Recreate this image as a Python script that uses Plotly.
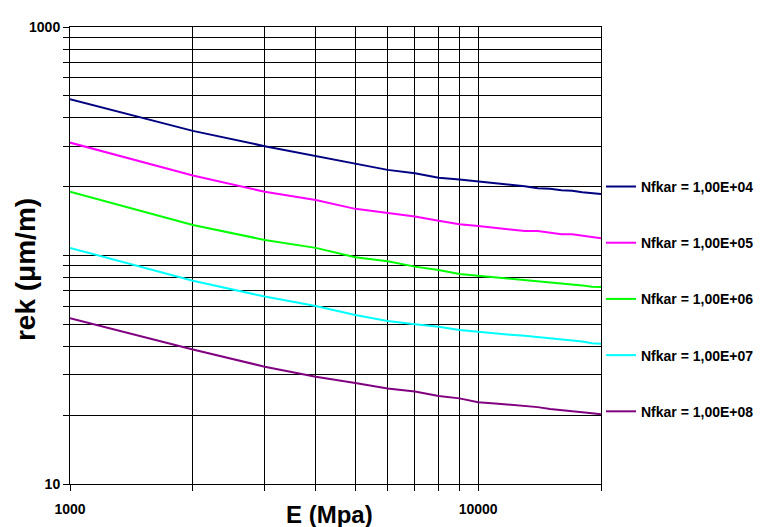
import plotly.graph_objects as go

# E (Mpa)
e_mpa = [1000, 2000, 3000, 4000, 5000, 6000, 7000, 8000, 9000, 10000,
         11000, 12000, 13000, 14000, 15000, 16000, 17000, 18000, 19000, 20000]

# rek (um/m) for each Nfkar
rek_1e4 = [483, 351, 301, 272, 251, 237, 229, 219, 215, 211,
           207, 204, 201, 197, 196, 193, 192, 189, 187, 186]
rek_1e5 = [312, 224, 190, 175, 160, 154, 148, 142, 137, 134.5,
           132, 130, 128, 128, 126, 124, 124, 122, 121, 119]
rek_1e6 = [190, 136, 117, 108, 98.3, 94.4, 89.4, 86.4, 83, 81.6,
           80, 79, 78, 77, 76.5, 75.5, 75, 74, 73, 72.8]
rek_1e7 = [108, 77.6, 66.1, 60.1, 54.9, 51.7, 50, 48.8, 47.2, 46.3,
           45.5, 45, 44.5, 44, 43.3, 42.8, 42.5, 42, 41.3, 41.1]
rek_1e8 = [53.1, 38.8, 32.6, 29.5, 27.7, 26.2, 25.4, 24.3, 23.7, 22.8,
           22.5, 22.2, 22.0, 21.7, 21.3, 21.1, 20.8, 20.6, 20.4, 20.2]

series_names = ["Nfkar = 1,00E+04", "Nfkar = 1,00E+05", "Nfkar = 1,00E+06",
                "Nfkar = 1,00E+07", "Nfkar = 1,00E+08"]
series_values = [rek_1e4, rek_1e5, rek_1e6, rek_1e7, rek_1e8]
colors = ["#000080", "#FF00FF", "#00FF00", "#00FFFF", "#800080"]

x_ticks = [1000, 2000, 3000, 4000, 5000, 6000, 7000, 8000, 9000, 10000, 20000]
x_labels = ["1000", "", "", "", "", "", "", "", "", "10000", ""]
y_ticks = [10, 20, 30, 40, 50, 60, 70, 80, 90,
           100, 200, 300, 400, 500, 600, 700, 800, 900, 1000]
y_labels = ["10"] + [""] * 17 + ["1000"]

font_family = "Liberation Sans, Arial, sans-serif"

fig = go.Figure()
for i, (name, vals, col) in enumerate(zip(series_names, series_values, colors)):
    fig.add_trace(go.Scatter(
        x=e_mpa, y=vals, mode="lines", name=name,
        line=dict(color=col, width=2), legendgroup=str(i),
    ))

# page body has an 8px margin, so the figure is sized to fit inside it
fig.update_layout(
    width=758, height=519,
    margin=dict(l=62, r=165, t=19, b=43, autoexpand=False),
    paper_bgcolor="white", plot_bgcolor="white",
    font=dict(family=font_family, color="black"),
    legend=dict(
        x=1.0, xanchor="left", y=0.405, yanchor="middle",
        font=dict(size=14, weight="bold", family=font_family),
        tracegroupgap=35, itemwidth=30, bgcolor="rgba(0,0,0,0)",
    ),
    xaxis=dict(
        type="log", range=[3, 4.30103], automargin=False,
        tickvals=x_ticks, ticktext=x_labels,
        ticks="outside", ticklen=6, tickcolor="black",
        tickfont=dict(size=14, weight="bold"), ticklabelstandoff=6,
        showgrid=True, gridcolor="black", gridwidth=1,
        showline=True, linecolor="black", linewidth=1, mirror=True,
        zeroline=False,
    ),
    yaxis=dict(
        type="log", range=[1, 3], automargin=False,
        tickvals=y_ticks, ticktext=y_labels,
        ticks="outside", ticklen=6, tickcolor="black",
        tickfont=dict(size=14, weight="bold"),
        showgrid=True, gridcolor="black", gridwidth=1,
        showline=True, linecolor="black", linewidth=1, mirror=True,
        zeroline=False,
    ),
)

# axis titles
fig.add_annotation(text="E (Mpa)", xref="paper", yref="paper",
                   x=0.488, y=-0.066, xanchor="center", yanchor="middle",
                   showarrow=False, font=dict(size=24, weight="bold"))
fig.add_annotation(text="rek (μm/m)", xref="paper", yref="paper",
                   x=-0.085, y=0.47, xanchor="center", yanchor="middle",
                   textangle=-90, showarrow=False, font=dict(size=28, weight="bold"))

fig.write_html("out.html")
